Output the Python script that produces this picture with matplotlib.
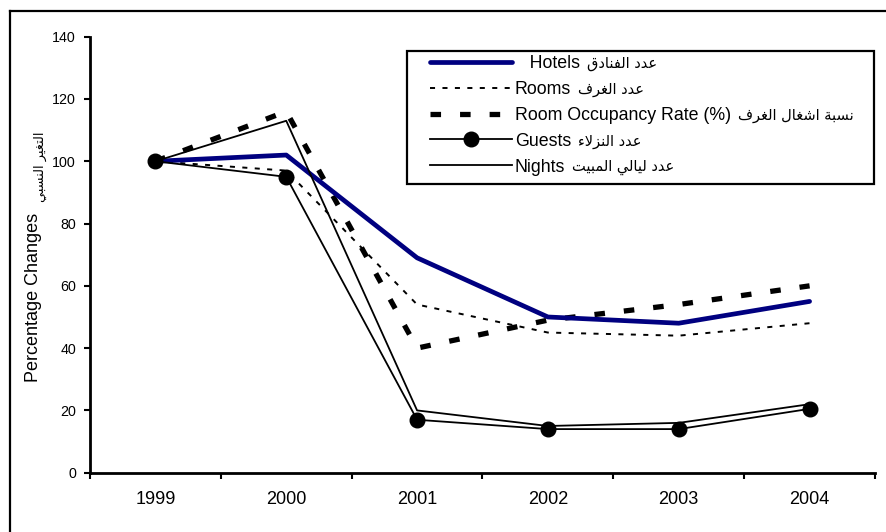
import matplotlib
matplotlib.use("Agg")
import matplotlib.pyplot as plt
from matplotlib.patches import Rectangle
from matplotlib.lines import Line2D
from matplotlib.transforms import IdentityTransform

# ---------------- data ----------------
years = ['1999', '2000', '2001', '2002', '2003', '2004']
hotels = [100, 102, 69, 50, 48, 55]
rooms = [100, 97, 54, 45, 44, 48]
occupancy = [100, 116, 40, 49, 54, 60]
guests = [100, 95, 17, 14, 14, 20.5]
nights = [100, 113, 20, 15, 16, 22]

labels_en = ['   Hotels', 'Rooms', 'Room Occupancy Rate (%)', 'Guests', 'Nights']
labels_ar = ['عدد الفنادق', 'عدد الغرف', 'نسبة اشغال الغرف', 'عدد النزلاء', 'عدد ليالي المبيت']
ylabel_en = 'Percentage Changes'
ylabel_ar = 'التغير النسبي'
yticks = [0, 20, 40, 60, 80, 100, 120, 140]

# ------------- minimal Arabic shaping (presentation forms, visual order) -------------
FORMS = {
    'ء': (0xFE80, None, None, None),
    'ا': (0xFE8D, 0xFE8E, None, None),
    'ب': (0xFE8F, 0xFE90, 0xFE91, 0xFE92),
    'ة': (0xFE93, 0xFE94, None, None),
    'ت': (0xFE95, 0xFE96, 0xFE97, 0xFE98),
    'د': (0xFEA9, 0xFEAA, None, None),
    'ر': (0xFEAD, 0xFEAE, None, None),
    'ز': (0xFEAF, 0xFEB0, None, None),
    'س': (0xFEB1, 0xFEB2, 0xFEB3, 0xFEB4),
    'ش': (0xFEB5, 0xFEB6, 0xFEB7, 0xFEB8),
    'ع': (0xFEC9, 0xFECA, 0xFECB, 0xFECC),
    'غ': (0xFECD, 0xFECE, 0xFECF, 0xFED0),
    'ف': (0xFED1, 0xFED2, 0xFED3, 0xFED4),
    'ق': (0xFED5, 0xFED6, 0xFED7, 0xFED8),
    'ل': (0xFEDD, 0xFEDE, 0xFEDF, 0xFEE0),
    'م': (0xFEE1, 0xFEE2, 0xFEE3, 0xFEE4),
    'ن': (0xFEE5, 0xFEE6, 0xFEE7, 0xFEE8),
    'ه': (0xFEE9, 0xFEEA, 0xFEEB, 0xFEEC),
    'ي': (0xFEF1, 0xFEF2, 0xFEF3, 0xFEF4),
    'لا': (0xFEFB, 0xFEFC, None, None),
}


def shape_ar(s):
    words = []
    for w in s.split(' '):
        toks = []
        i = 0
        while i < len(w):
            if w[i] == 'ل' and i + 1 < len(w) and w[i + 1] == 'ا':
                toks.append('لا')
                i += 2
            else:
                toks.append(w[i])
                i += 1
        res = []
        for k, t in enumerate(toks):
            f = FORMS[t]
            jp = k > 0 and FORMS[toks[k - 1]][2] is not None and f[1] is not None
            jn = k < len(toks) - 1 and f[2] is not None and FORMS[toks[k + 1]][1] is not None
            if jp and jn:
                c = f[3]
            elif jp:
                c = f[1]
            elif jn:
                c = f[2]
            else:
                c = f[0]
            res.append(chr(c))
        words.append(''.join(res))
    return ' '.join(words)[::-1]


FAM = ['Liberation Sans', 'DejaVu Sans']
plt.rcParams['font.family'] = FAM

W, H, DPI = 887, 532, 100
fig = plt.figure(figsize=(W / DPI, H / DPI), dpi=DPI)
fig.patch.set_facecolor('white')
fig.patch.set_linewidth(0)


def fx(px):
    return px / W


def fy(py):
    return 1 - py / H


ax = fig.add_axes([fx(90), fy(472.7), fx(875) - fx(90), fy(36.7) - fy(472.7)])
x = list(range(len(years)))

h1, = ax.plot(x, hotels, color='#000080', lw=3.4, solid_capstyle='round', zorder=5)
h2, = ax.plot(x, rooms, color='black', lw=1.4, dashes=(2.6, 3.8), zorder=3)
h3, = ax.plot(x, occupancy, color='black', lw=3.8, dashes=(2.0, 3.6), zorder=4)
h4, = ax.plot(x, guests, color='black', lw=1.3, marker='o', markersize=10.5, zorder=6)
h5, = ax.plot(x, nights, color='black', lw=1.3, zorder=6)

ax.set_xlim(-0.5, len(years) - 0.5)
ax.set_ylim(0, 140)
ax.set_yticks(yticks)
ax.set_yticklabels([str(v) for v in yticks], fontsize=10.3)
ax.set_xticks(x)
ax.set_xticklabels(years, fontsize=13)
ax.set_xticks([i - 0.5 for i in range(len(years) + 1)], minor=True)
ax.tick_params(axis='x', which='major', length=0, pad=13.5)
ax.tick_params(axis='x', which='minor', length=4.5, width=1.5, direction='out')
ax.tick_params(axis='y', which='major', length=4.3, width=1.5, direction='out', pad=5.7)
for s in ['top', 'right']:
    ax.spines[s].set_visible(False)
for s in ['left', 'bottom']:
    ax.spines[s].set_linewidth(2.0)

# y label (English + Arabic)
fig.text(37.5, H - 382, ylabel_en, rotation=90, rotation_mode='anchor',
         ha='left', va='baseline', fontsize=13, transform=IdentityTransform())
fig.text(40, H - 202, shape_ar(ylabel_ar), rotation=90, rotation_mode='anchor',
         ha='left', va='center', fontsize=9.3, family=['DejaVu Sans'],
         transform=IdentityTransform())

# legend
leg = ax.legend([h1, h2, h3, h4, h5], labels_en, loc='upper left',
                bbox_to_anchor=(fx(430), fy(55)), bbox_transform=fig.transFigure,
                frameon=False, fontsize=12.8, handlelength=4.6, handletextpad=0.17,
                labelspacing=0.5, borderpad=0, borderaxespad=0)
leg.set_zorder(10)
fig.add_artist(Rectangle((fx(406.7), fy(184.3)), fx(874) - fx(406.7), fy(50.7) - fy(184.3),
                         transform=fig.transFigure, fill=True, facecolor='white',
                         edgecolor='black', lw=1.6, zorder=1.5))
ax.set_zorder(2)
ax.patch.set_alpha(0)

fig.canvas.draw()
r = fig.canvas.get_renderer()
for t, ar in zip(leg.get_texts(), labels_ar):
    bb = t.get_window_extent(r)
    fig.text(bb.x1 + 7, (bb.y0 + bb.y1) / 2, shape_ar(ar), ha='left', va='center',
             fontsize=10.5, family=['DejaVu Sans'], transform=IdentityTransform(), zorder=20)

# outer chart-area border (only top and left are inside the picture)
fig.add_artist(Line2D([fx(10), 1.0], [fy(11), fy(11)], transform=fig.transFigure,
                      color='black', lw=1.6, zorder=0))
fig.add_artist(Line2D([fx(10), fx(10)], [0.0, fy(11)], transform=fig.transFigure,
                      color='black', lw=1.6, zorder=0, solid_capstyle='projecting'))

fig.savefig('out.png', dpi=DPI)
